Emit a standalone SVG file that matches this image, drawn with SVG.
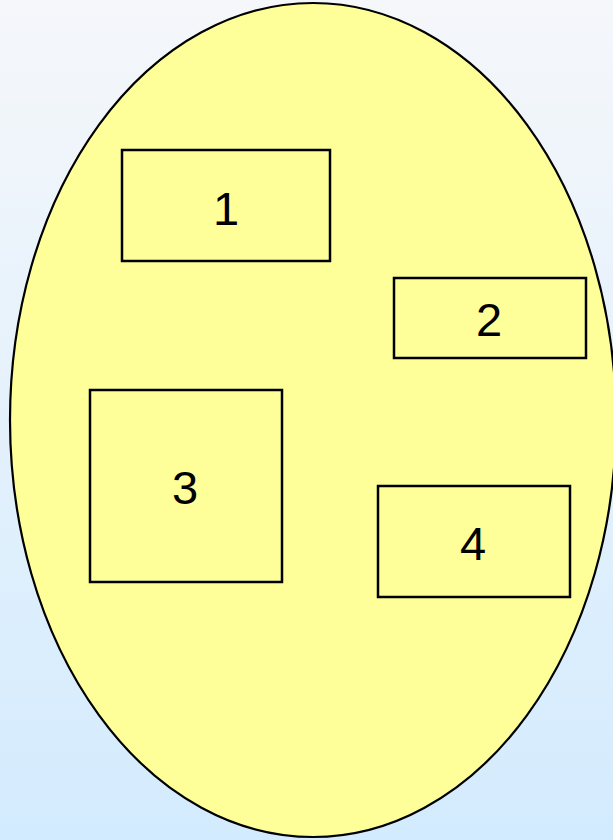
<svg xmlns="http://www.w3.org/2000/svg" width="613" height="840" viewBox="0 0 613 840">
<defs>
<linearGradient id="bg" x1="0" y1="0" x2="0" y2="1">
<stop offset="0" stop-color="#f5f7fa"/>
<stop offset="1" stop-color="#d3ebfe"/>
</linearGradient>
<style>
.box{fill:#ffff99;stroke:#000;stroke-width:2.5}
.lbl{font-family:"Liberation Sans",Arial,sans-serif;font-size:47px;fill:#000;text-anchor:middle}
</style>
</defs>
<rect x="0" y="0" width="613" height="840" fill="url(#bg)"/>
<g id="set">
<ellipse cx="313" cy="420" rx="303" ry="417" fill="#ffff99" stroke="#000" stroke-width="2.2"/>
</g>
<g id="node1"><rect class="box" x="122" y="150" width="208" height="111"/><text class="lbl" x="226" y="225">1</text></g>
<g id="node2"><rect class="box" x="394" y="278" width="192" height="80"/><text class="lbl" x="489" y="336">2</text></g>
<g id="node3"><rect class="box" x="90" y="390" width="192" height="192"/><text class="lbl" x="185" y="504">3</text></g>
<g id="node4"><rect class="box" x="378" y="486" width="192" height="111"/><text class="lbl" x="473" y="560">4</text></g>
<g id="connectors"></g>
</svg>
